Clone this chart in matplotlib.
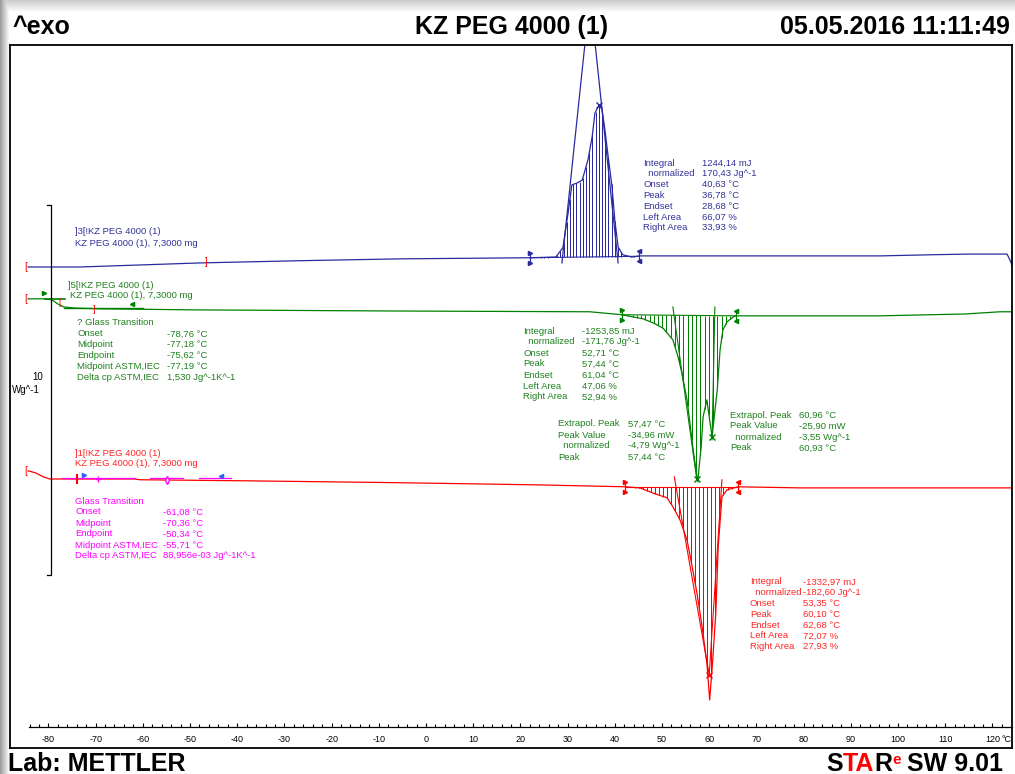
import numpy as np
import matplotlib
matplotlib.use("Agg")
import matplotlib.pyplot as plt
from matplotlib.ticker import FixedLocator

plt.rcParams['font.family'] = ['Liberation Sans', 'DejaVu Sans']
plt.rcParams['axes.unicode_minus'] = False

W, H = 1015, 774

# ---- curves: temperature (°C) vs heat flow as drawn (Wg^-1, curves offset) ----
blue_T = [-84.3, -73.3, -47.9, -26.7, -5.5, 22.0, 27.5, 29.0, 30.1, 30.9, 32.0, 33.1,
          34.3, 35.2, 35.8, 36.7, 37.3, 37.9, 38.6, 39.4, 40.0, 40.7, 41.7, 43.6,
          45.3, 68.6, 96.2, 106.8, 115.3, 123.1, 123.9, 124.15]
blue_y = [5.97, 5.97, 6.08, 6.14, 6.19, 6.22, 6.24, 6.49, 7.43, 8.19, 8.24, 8.32,
          8.86, 9.49, 10.14, 10.35, 10.22, 9.68, 8.95, 8.14, 7.24, 6.51, 6.30, 6.24,
          6.27, 6.27, 6.27, 6.30, 6.32, 6.32, 6.11, 6.00]

green_T = [-84.3, -80.7, -79.2, -78.0, -76.7, -74.4, -69.1, -47.9, -5.5, 34.7, 41.5,
           43.9, 46.0, 48.1, 50.2, 52.3, 53.4, 54.2, 55.3, 55.9, 56.6, 57.4, 57.6,
           57.8, 58.3, 58.7, 59.5, 60.0, 60.6, 61.0, 61.7, 62.3, 62.9, 63.8, 64.8,
           65.5, 70.8, 96.2, 106.8, 114.2, 121.6, 124.15]
green_y = [5.11, 5.11, 5.08, 4.97, 4.89, 4.86, 4.84, 4.81, 4.78, 4.76, 4.68,
           4.62, 4.57, 4.46, 4.32, 4.00, 3.54, 3.11, 2.38, 1.76, 1.03, 0.30, 0.16,
           0.49, 1.11, 1.92, 2.38, 1.92, 1.38, 1.84, 2.65, 3.73, 4.27, 4.49, 4.59,
           4.65, 4.65, 4.65, 4.68, 4.70, 4.76, 4.76]

red_T = [-84.3, -82.8, -81.1, -79.7, -61.7, -60.6, -37.3, -5.5, 24.2, 42.2, 45.3,
         48.1, 51.1, 52.3, 53.8, 55.3, 56.4, 57.4, 58.5, 59.5, 60.1, 60.7, 61.4,
         61.9, 62.7, 63.8, 66.1, 79.2, 124.15]
red_y = [0.46, 0.41, 0.30, 0.24, 0.24, 0.22, 0.19, 0.14, 0.08, 0.03, 0.00,
         -0.14, -0.27, -0.51, -0.86, -1.41, -2.14, -2.84, -3.76, -4.73, -5.73, -4.73, -3.38,
         -1.59, -0.24, -0.05, 0.03, 0.00, 0.00]

# integration limits (°C) and baseline level at them
blue_lim, blue_base = [22.0, 45.1], [6.22, 6.26]
green_lim, green_base = [41.5, 65.7], [4.68, 4.65]
red_lim, red_base = [42.2, 66.1], [0.03, 0.03]

# evaluation texts
peak_labels = ['Integral', '  normalized', 'Onset', 'Peak', 'Endset', 'Left Area', 'Right Area']
blue_values = ['1244,14 mJ', '170,43 Jg^-1', '40,63 °C', '36,78 °C', '28,68 °C', '66,07 %', '33,93 %']
green_values = ['-1253,85 mJ', '-171,76 Jg^-1', '52,71 °C', '57,44 °C', '61,04 °C', '47,06 %', '52,94 %']
red_values = ['-1332,97 mJ', '-182,60 Jg^-1', '53,35 °C', '60,10 °C', '62,68 °C', '72,07 %', '27,93 %']
ext_labels = ['Extrapol. Peak', 'Peak Value', '  normalized', 'Peak']
green_ext1 = ['57,47 °C', '-34,96 mW', '-4,79 Wg^-1', '57,44 °C']
green_ext2 = ['60,96 °C', '-25,90 mW', '-3,55 Wg^-1', '60,93 °C']
gt_labels = ['Onset', 'Midpoint', 'Endpoint', 'Midpoint ASTM,IEC', 'Delta cp ASTM,IEC']
green_gt = ['-78,76 °C', '-77,18 °C', '-75,62 °C', '-77,19 °C', '1,530 Jg^-1K^-1']
red_gt = ['-61,08 °C', '-70,36 °C', '-50,34 °C', '-55,71 °C', '88,956e-03 Jg^-1K^-1']
curve_names = [']3[!KZ PEG 4000 (1)', ']5[!KZ PEG 4000 (1)', ']1[!KZ PEG 4000 (1)']
sample_line = 'KZ PEG 4000 (1), 7,3000 mg'
temp_ticks = list(range(-80, 121, 10))

BLUE, GREEN, RED, MAG = '#2a2aa0', '#008000', '#ff0000', '#ff00ff'
BLUE_TXT, GREEN_TXT, RED_TXT = '#333399', '#1f801f', '#ff2525'
FS = 6.8

fig = plt.figure(figsize=(W / 100, H / 100), dpi=100)

# grey window shadow along left and top edge
bg = fig.add_axes([0, 0, 1, 1], zorder=-5)
xx = np.arange(W)
yy = np.arange(H)
shade = np.minimum(np.clip(0.62 + 0.38 * xx / 9, 0, 1)[None, :],
                   np.clip(0.80 + 0.20 * yy / 12, 0, 1)[:, None])
bg.imshow(shade, cmap='gray', vmin=0, vmax=1, aspect='auto',
          extent=(0, W, H, 0), interpolation='nearest')
bg.axis('off')

ax = fig.add_axes([10 / W, 26 / H, 1002 / W, 703 / H])
ax.set_xlim(-88.14, 124.15)
ax.set_ylim(-7.03, 11.97)
ax.set_xticks([])
ax.set_yticks([])
for sp in ax.spines.values():
    sp.set_linewidth(1.3)

# temperature axis drawn inside the frame
sec = ax.secondary_xaxis(21 / 703)
sec.xaxis.set_major_locator(FixedLocator(temp_ticks))
sec.xaxis.set_minor_locator(FixedLocator(np.arange(-84, 123, 2)))
sec.tick_params(which='both', direction='in', labelsize=6.5, pad=6, width=0.8)
sec.tick_params(which='major', length=3.2)
sec.tick_params(which='minor', length=2.2)
sec.spines['bottom'].set_bounds(-84.1, 124.15)
sec.spines['bottom'].set_linewidth(0.9)


def curve(T, y, lim, base, step, color):
    ax.plot(T, y, color=color, lw=0.9)
    ax.plot(lim, base, color=color, lw=0.8)
    # vertical hatch between baseline and curve
    hx = np.arange(lim[0] + step / 2, lim[1], step)
    hb = np.interp(hx, lim, base)
    hy = np.interp(hx, T, y)
    ax.vlines(hx, hb, hy, colors=color, linewidths=0.72, snap=True)
    for x, b, m in zip(lim, base, ['>', '<']):
        ax.plot([x], [b], marker='|', ms=9, color=color, mew=0.9)
        ax.plot([x, x], [b + 0.13, b - 0.13], ls='none', marker=m, ms=3, color=color)
    ax.text(T[0] - 0.3, y[0], '[', color=RED, fontsize=7, ha='right', va='center')


curve(blue_T, blue_y, blue_lim, blue_base, 0.68, BLUE)
curve(green_T, green_y, green_lim, green_base, 0.9, GREEN)
curve(red_T, red_y, red_lim, red_base, 0.85, RED)

# extrapolated peak tangents
ax.plot([28.8, 34.0], [6.08, 12.4], color=BLUE, lw=0.9)
ax.plot([40.7, 35.5], [6.08, 12.4], color=BLUE, lw=0.9)
ax.plot([52.3, 57.4], [4.89, 0.2], color=GREEN, lw=0.8)
ax.plot([61.2, 60.6], [4.89, 1.3], color=GREEN, lw=0.8)
ax.plot([57.4, 60.6], [0.25, 1.38], ls='none', marker='x', ms=4, color=GREEN)
ax.plot([52.6, 60.0], [0.3, -5.05], color=RED, lw=0.8)
ax.plot([62.7, 60.0], [0.22, -5.05], color=RED, lw=0.8)
ax.plot([36.7], [10.35], marker='x', ms=4, color=BLUE)
ax.plot([60.0], [-5.05], marker='x', ms=4, color=RED)

# red end marker on blue baseline
ax.text(-46.8, 6.11, ']', color=RED, fontsize=7, ha='left', va='center')

# glass transition evaluation marks
ax.plot([-80.7, -76.5], [5.11, 5.11], color=GREEN, lw=1.2)
ax.plot([-76.7, -60.0], [4.86, 4.86], color=GREEN, lw=1.0)
ax.plot([-80.9], [5.27], marker='>', ms=3, color=GREEN)
ax.plot([-62.2], [4.98], marker='<', ms=3, color=GREEN)
ax.text(-77.6, 5.0, '[', color=RED, fontsize=6.5, ha='center', va='center')
ax.text(-70.3, 4.81, ']', color=RED, fontsize=6.5, ha='center', va='center')
for a, b in [(-77.1, -61.7), (-58.5, -51.5), (-48.1, -41.3)]:
    ax.plot([a, b], [0.27, 0.27], color=MAG, lw=0.9)
ax.plot([-72.5], [0.35], marker='>', ms=3, color='#3060ff')
ax.plot([-43.4], [0.33], marker='<', ms=3, color='#3060ff')
ax.plot([-69.5], [0.24], marker='+', ms=4, color=MAG)
ax.plot([-54.9], [0.22], marker='d', ms=4, mfc='white', color=MAG)
ax.plot([-73.9], [0.24], marker='|', ms=7, mew=1.5, color=RED)

# 10 Wg^-1 scale bracket
ax.plot([-80.4, -79.4, -79.4, -80.4], [7.65, 7.65, -2.35, -2.35], color='black', lw=0.9)


def ftxt(px, py, s, color='black', size=FS, ha='left', va='center', **kw):
    return fig.text(px / W, 1 - py / H, s, color=color, fontsize=size, ha=ha, va=va, **kw)


def block(xl, xv, y0, dy, labels, values, color):
    for i, (l, v) in enumerate(zip(labels, values)):
        ftxt(xl, y0 + i * dy, l, color)
        ftxt(xv, y0 + i * dy, v, color)


block(643, 702, 163, 10.8, peak_labels, blue_values, BLUE_TXT)
block(523, 582, 331, 11.0, peak_labels, green_values, GREEN_TXT)
block(558, 628, 424, 11.0, ext_labels, green_ext1, GREEN_TXT)
block(730, 799, 415, 11.0, ext_labels, green_ext2, GREEN_TXT)
block(750, 803, 582, 10.8, peak_labels, red_values, RED_TXT)
ftxt(77, 323, '? Glass Transition', GREEN_TXT)
block(77, 167, 334, 10.8, gt_labels, green_gt, GREEN_TXT)
ftxt(75, 501, 'Glass Transition', MAG)
block(75, 163, 512, 11.0, gt_labels, red_gt, MAG)

ftxt(75, 232, curve_names[0], BLUE_TXT)
ftxt(75, 243, sample_line, BLUE_TXT)
ftxt(68, 285, curve_names[1], GREEN_TXT)
ftxt(70, 296, sample_line, GREEN_TXT)
ftxt(75, 453, curve_names[2], RED_TXT)
ftxt(75, 464, sample_line, RED_TXT)

ftxt(38, 377, '10', ha='center', size=7)
ftxt(12, 390, 'Wg^-1', size=7)
ftxt(1001, 740, '°C', size=6.5)

# header and footer
ftxt(12, 27, '^exo', size=18, weight='bold')
ftxt(512, 27, 'KZ PEG 4000 (1)', size=18, ha='center', weight='bold')
ftxt(1010, 27, '05.05.2016 11:11:49', size=18, ha='right', weight='bold')
ftxt(8, 771, 'Lab: METTLER', size=18, va='baseline', weight='bold')

t = ftxt(826, 771, 'S', size=18, va='baseline', weight='bold')
t_ta = ax.annotate('TA', xy=(1, 0), xycoords=t, color=RED, fontsize=18, weight='bold',
                   ha='left', va='bottom', annotation_clip=False)
t_r = ax.annotate('R', xy=(1, 0), xycoords=t_ta, fontsize=18, weight='bold',
                  ha='left', va='bottom', annotation_clip=False)
t_e = ax.annotate('e', xy=(1, 0.97), xycoords=t_r, color=RED, fontsize=11, weight='bold',
                  ha='left', va='top', annotation_clip=False)
ax.annotate(' SW 9.01', xy=(1, 0), xycoords=(t_e, t_r), fontsize=18, weight='bold',
            ha='left', va='bottom', annotation_clip=False)

fig.savefig('out.png', dpi=100)
